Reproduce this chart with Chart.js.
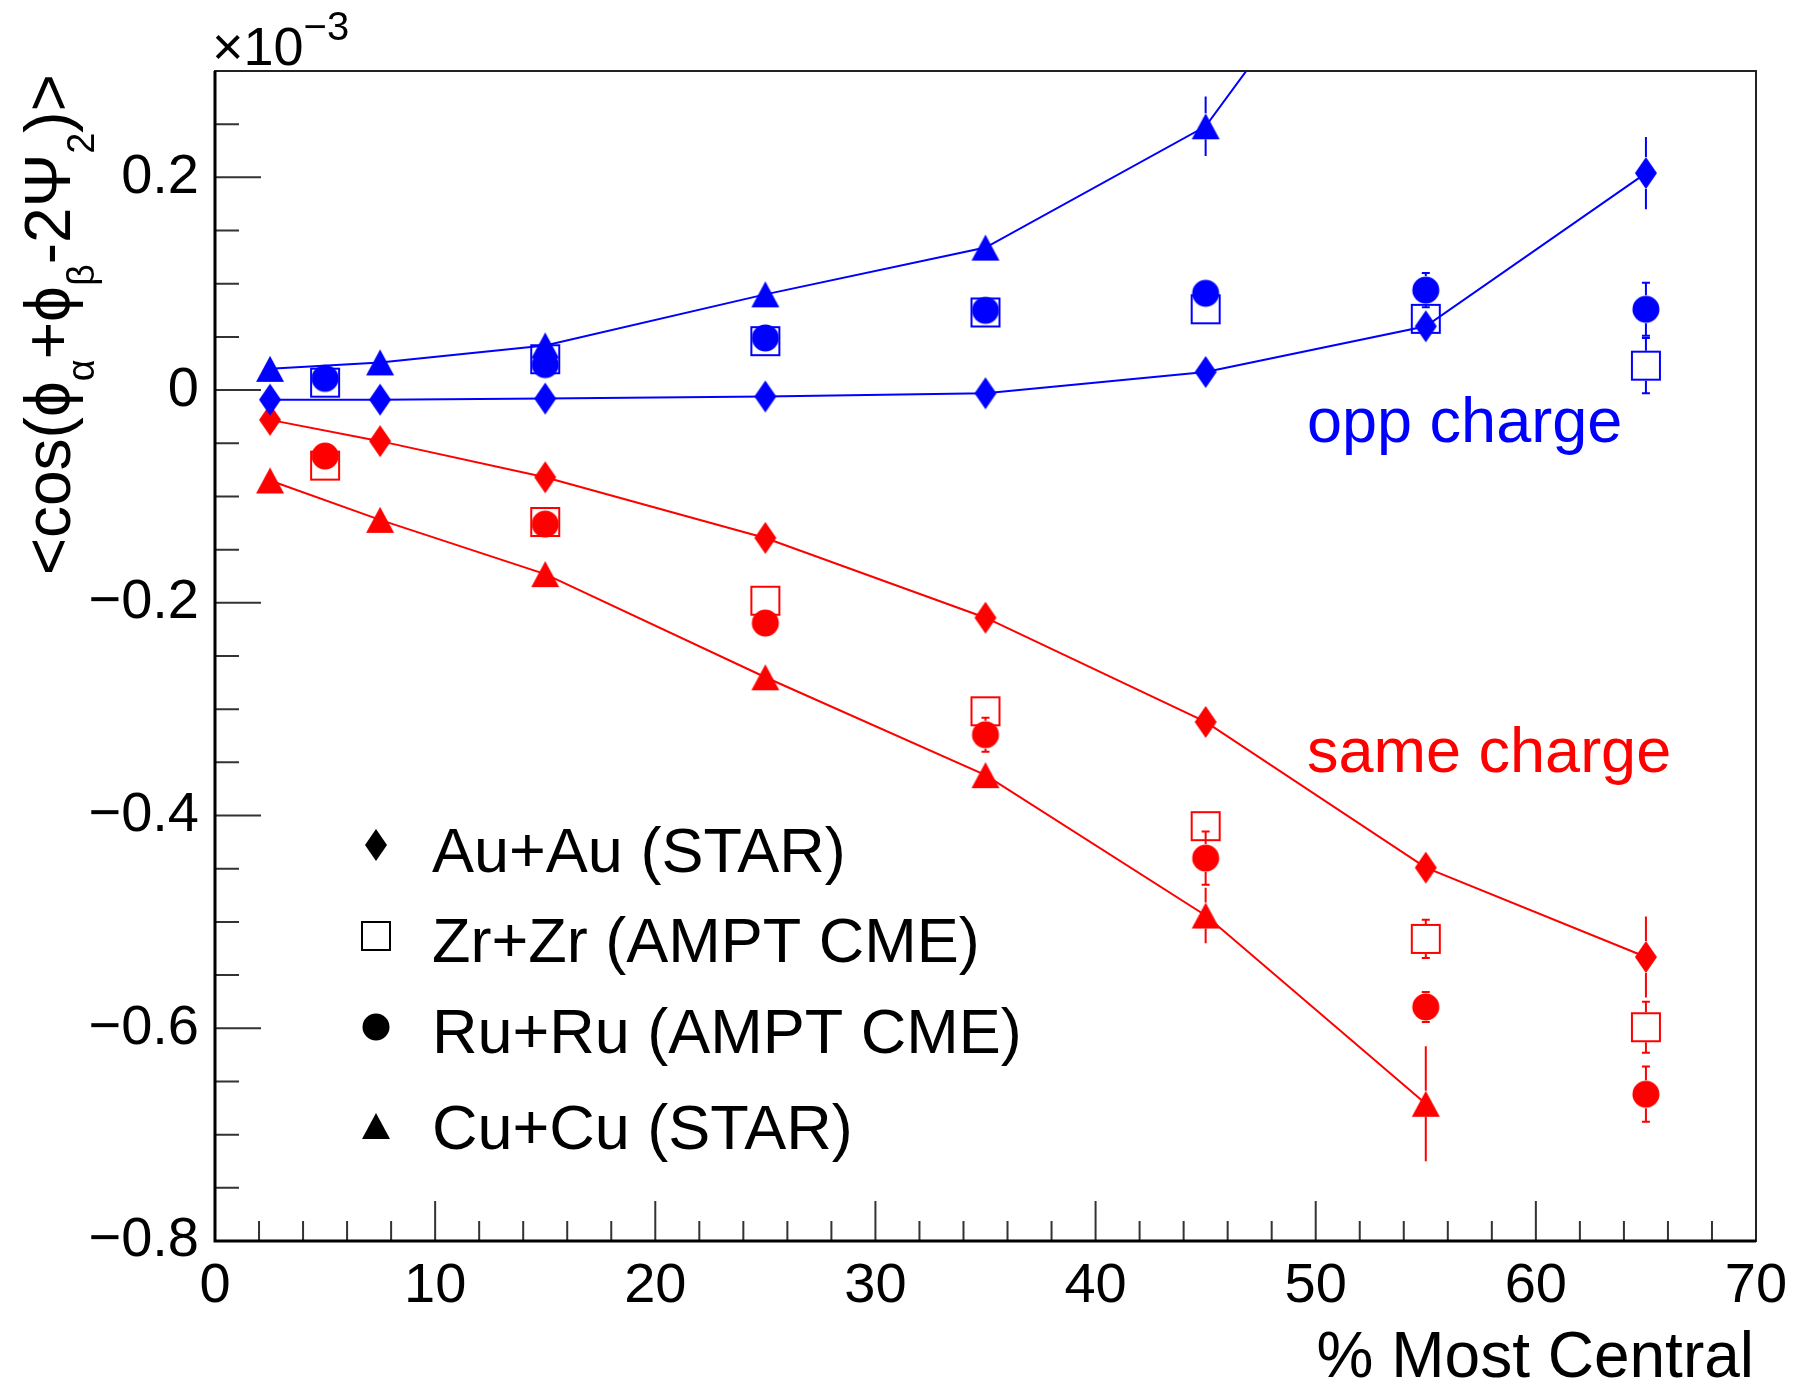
<!DOCTYPE html>
<html><head><meta charset="utf-8">
<script src="https://cdn.jsdelivr.net/npm/chart.js@4.4.0/dist/chart.umd.min.js"></script>
<style>html,body{margin:0;padding:0;background:#fff;} canvas{display:block;}</style>
</head><body>
<canvas id="c" width="1794" height="1384"></canvas>
<script>
// ---------- data ----------
const xAuAu = [2.5, 7.5, 15, 25, 35, 45, 55, 65];
const xCuCu = [2.5, 7.5, 15, 25, 35, 45, 55];
const xAmpt = [5, 15, 25, 35, 45, 55, 65];

const auOpp     = [-0.009, -0.009, -0.008, -0.006, -0.003, 0.017, 0.060, 0.204];
const auOppErr  = [0.003, 0.003, 0.003, 0.003, 0.004, 0.005, 0.010, 0.034];
const cuOpp     = [0.020, 0.026, 0.042, 0.090, 0.134, 0.248, 0.530];
const cuOppErr  = [0.003, 0.004, 0.006, 0.006, 0.012, 0.028, 0.060];
const zrOpp     = [0.007, 0.029, 0.046, 0.073, 0.076, 0.067, 0.023];
const zrOppErr  = [0.003, 0.004, 0.004, 0.005, 0.006, 0.008, 0.026];
const ruOpp     = [0.011, 0.024, 0.049, 0.075, 0.091, 0.094, 0.076];
const ruOppErr  = [0.003, 0.004, 0.004, 0.005, 0.006, 0.016, 0.025];

const auSame    = [-0.028, -0.048, -0.082, -0.139, -0.214, -0.312, -0.449, -0.533];
const auSameErr = [0.003, 0.003, 0.004, 0.004, 0.005, 0.006, 0.008, 0.038];
const cuSame    = [-0.085, -0.122, -0.173, -0.270, -0.362, -0.494, -0.671];
const cuSameErr = [0.004, 0.005, 0.006, 0.008, 0.012, 0.026, 0.054];
const zrSame    = [-0.071, -0.124, -0.198, -0.302, -0.410, -0.516, -0.599];
const zrSameErr = [0.004, 0.005, 0.006, 0.008, 0.010, 0.018, 0.024];
const ruSame    = [-0.062, -0.126, -0.219, -0.324, -0.440, -0.580, -0.662];
const ruSameErr = [0.004, 0.005, 0.006, 0.016, 0.025, 0.014, 0.026];

const xTickValues = [0, 10, 20, 30, 40, 50, 60, 70];
const yTickValues = [-0.8, -0.6, -0.4, -0.2, 0, 0.2];
const legendLabels = ['Au+Au (STAR)', 'Zr+Zr (AMPT CME)', 'Ru+Ru (AMPT CME)', 'Cu+Cu (STAR)'];

// ---------- styles ----------
const FAM = "'Liberation Sans', Arial, Helvetica, sans-serif";
const BLUE = '#0000ff', RED = '#ff0000';
const HALF = { diamond: 16, circle: 14, square: 15, triangle: 13 };

function marker(shape, color) {
  const c = document.createElement('canvas');
  const g = c.getContext('2d');
  if (shape === 'diamond') {
    c.width = 24; c.height = 34;
    g.fillStyle = color; g.beginPath();
    g.moveTo(12, 1); g.lineTo(23, 17); g.lineTo(12, 33); g.lineTo(1, 17); g.closePath(); g.fill();
  } else if (shape === 'circle') {
    c.width = 30; c.height = 30;
    g.fillStyle = color; g.beginPath(); g.arc(15, 15, 13.5, 0, Math.PI * 2); g.fill();
  } else if (shape === 'square') {
    c.width = 32; c.height = 32;
    g.strokeStyle = color; g.lineWidth = 2; g.strokeRect(2, 2, 28, 28);
  } else {
    c.width = 30; c.height = 28;
    g.fillStyle = color; g.beginPath();
    g.moveTo(15, 1); g.lineTo(29, 27); g.lineTo(1, 27); g.closePath(); g.fill();
  }
  return c;
}

function pts(xs, ys) { return xs.map((x, i) => ({ x: x, y: ys[i] })); }

function ds(label, xs, ys, errs, shape, color, line, cap) {
  return {
    label: label, data: pts(xs, ys), errs: errs, cap: cap, shape: shape,
    pointStyle: marker(shape, color), pointRadius: 12,
    showLine: line, borderColor: color, borderWidth: 2, backgroundColor: color,
    tension: 0, clip: 0, ecolor: color
  };
}

const datasets = [
  ds('Zr opp', xAmpt, zrOpp, zrOppErr, 'square', BLUE, false, true),
  ds('Ru opp', xAmpt, ruOpp, ruOppErr, 'circle', BLUE, false, true),
  ds('Au opp', xAuAu, auOpp, auOppErr, 'diamond', BLUE, true, false),
  ds('Cu opp', xCuCu, cuOpp, cuOppErr, 'triangle', BLUE, true, false),
  ds('Zr same', xAmpt, zrSame, zrSameErr, 'square', RED, false, true),
  ds('Ru same', xAmpt, ruSame, ruSameErr, 'circle', RED, false, true),
  ds('Au same', xAuAu, auSame, auSameErr, 'diamond', RED, true, false),
  ds('Cu same', xCuCu, cuSame, cuSameErr, 'triangle', RED, true, false)
];

const errorBars = {
  id: 'errorBars',
  beforeDatasetsDraw(chart) {
    const ctx = chart.ctx, a = chart.chartArea, ys = chart.scales.y;
    ctx.save();
    ctx.beginPath(); ctx.rect(a.left, a.top, a.right - a.left, a.bottom - a.top); ctx.clip();
    chart.data.datasets.forEach((d, i) => {
      const meta = chart.getDatasetMeta(i);
      const h = HALF[d.shape];
      ctx.strokeStyle = d.ecolor; ctx.lineWidth = 2;
      meta.data.forEach((p, j) => {
        const v = d.data[j].y, e = d.errs[j];
        const y1 = ys.getPixelForValue(v + e), y2 = ys.getPixelForValue(v - e);
        ctx.beginPath();
        if (p.y - y1 > h) {
          ctx.moveTo(p.x, y1); ctx.lineTo(p.x, p.y - h);
          if (d.cap) { ctx.moveTo(p.x - 4, y1); ctx.lineTo(p.x + 4, y1); }
        }
        if (y2 - p.y > h) {
          ctx.moveTo(p.x, p.y + h); ctx.lineTo(p.x, y2);
          if (d.cap) { ctx.moveTo(p.x - 4, y2); ctx.lineTo(p.x + 4, y2); }
        }
        ctx.stroke();
      });
    });
    ctx.restore();
  }
};

const decor = {
  id: 'decor',
  afterDraw(chart) {
    const ctx = chart.ctx, a = chart.chartArea, xs = chart.scales.x, ys = chart.scales.y;
    ctx.save();
    // inner ticks
    ctx.strokeStyle = '#333'; ctx.lineWidth = 2;
    ctx.beginPath();
    for (let v = 0; v <= 70.001; v += 2) {
      const px = xs.getPixelForValue(v);
      const len = (Math.abs(v % 10) < 1e-6) ? 40 : 20;
      ctx.moveTo(px, a.bottom); ctx.lineTo(px, a.bottom - len);
    }
    for (let k = -16; k <= 6; k++) {
      const v = k * 0.05;
      const py = ys.getPixelForValue(v);
      const len = (k % 4 === 0) ? 46 : 24;
      ctx.moveTo(a.left, py); ctx.lineTo(a.left + len, py);
    }
    ctx.stroke();
    // frame
    ctx.strokeStyle = '#222'; ctx.lineWidth = 2;
    ctx.strokeRect(a.left, a.top, a.right - a.left, a.bottom - a.top);
    ctx.strokeStyle = '#000'; ctx.lineWidth = 3;
    ctx.beginPath(); ctx.moveTo(a.left, a.top); ctx.lineTo(a.left, a.bottom); ctx.lineTo(a.right, a.bottom); ctx.stroke();

    ctx.fillStyle = '#000';
    ctx.textBaseline = 'alphabetic';
    // x10^-3
    ctx.font = '54px ' + FAM; ctx.textAlign = 'left';
    ctx.fillText('\u00d710', 212, 65);
    const w = ctx.measureText('\u00d710').width;
    ctx.font = '40px ' + FAM;
    ctx.fillText('\u22123', 212 + w, 40);

    // x title
    ctx.font = '64px ' + FAM; ctx.textAlign = 'right';
    ctx.fillText('% Most Central', 1754, 1377);

    // y title (rotated, with subscripts)
    const parts = [['<cos(\u03d5', 0], ['\u03b1', 1], ['+\u03d5', 0], ['\u03b2', 1], ['-2\u03a8', 0], ['2', 1], [')>', 0]];
    const mainF = '64px ' + FAM, subF = '38px ' + FAM;
    let total = 0;
    parts.forEach(p => { ctx.font = p[1] ? subF : mainF; total += ctx.measureText(p[0]).width; });
    ctx.save();
    ctx.translate(70, 74 + total);
    ctx.rotate(-Math.PI / 2);
    ctx.textAlign = 'left';
    let cx = 0;
    parts.forEach(p => {
      ctx.font = p[1] ? subF : mainF;
      ctx.fillText(p[0], cx, p[1] ? 24 : 0);
      cx += ctx.measureText(p[0]).width;
    });
    ctx.restore();

    // annotations
    ctx.textAlign = 'left';
    ctx.font = '63px ' + FAM;
    ctx.fillStyle = BLUE; ctx.fillText('opp charge', 1307, 442);
    ctx.fillStyle = RED; ctx.fillText('same charge', 1307, 772);

    // legend
    const shapes = ['diamond', 'square', 'circle', 'triangle'];
    const my = [845, 936, 1027, 1126];
    const by = [872, 962, 1053, 1149];
    ctx.fillStyle = '#000';
    legendLabels.forEach((t, i) => {
      const m = marker(shapes[i], '#000');
      ctx.drawImage(m, 376 - m.width / 2, my[i] - m.height / 2);
      ctx.fillText(t, 432, by[i]);
    });
    ctx.restore();
  }
};

const fmtY = v => (Math.abs(v) < 1e-9 ? '0' : (v < 0 ? '\u2212' : '') + Math.abs(v).toFixed(1));

new Chart(document.getElementById('c'), {
  type: 'scatter',
  data: { datasets: datasets },
  options: {
    responsive: false, animation: false, devicePixelRatio: 1, events: [],
    layout: { padding: { top: 71, right: 38, left: 0, bottom: 0 } },
    plugins: { legend: { display: false }, tooltip: { enabled: false } },
    scales: {
      x: {
        type: 'linear', min: 0, max: 70,
        afterBuildTicks: s => { s.ticks = xTickValues.map(v => ({ value: v })); },
        afterFit: s => { s.height = 143; s.paddingLeft = 0; s.paddingRight = 0; },
        grid: { display: false, drawTicks: false }, border: { display: false },
        ticks: { color: '#000', font: { family: FAM, size: 56 }, padding: 12, maxRotation: 0, autoSkip: false,
                 callback: v => String(v) }
      },
      y: {
        type: 'linear', min: -0.8, max: 0.3,
        afterBuildTicks: s => { s.ticks = yTickValues.map(v => ({ value: v })); },
        afterFit: s => { s.width = 215; s.paddingTop = 0; s.paddingBottom = 0; },
        grid: { display: false, drawTicks: false }, border: { display: false },
        ticks: { color: '#000', font: { family: FAM, size: 56 }, padding: 16, autoSkip: false,
                 callback: v => fmtY(v) }
      }
    }
  },
  plugins: [errorBars, decor]
});
</script>
</body></html>
